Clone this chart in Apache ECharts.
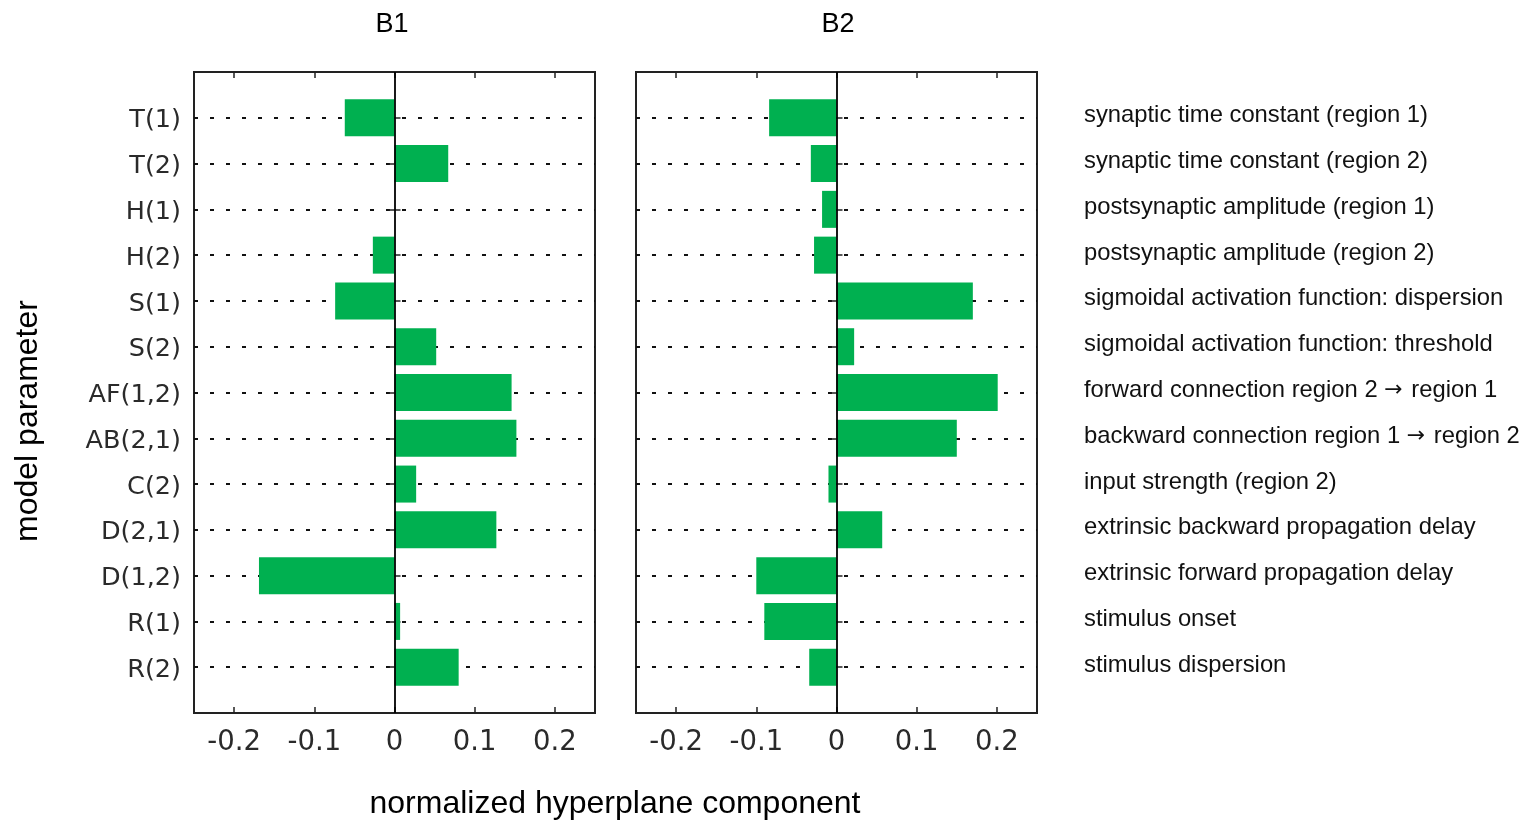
<!DOCTYPE html>
<html>
<head>
<meta charset="utf-8">
<title>Hyperplane components</title>
<script src="https://cdn.jsdelivr.net/npm/echarts@6/dist/echarts.min.js"></script>
<style>
  html, body { margin: 0; padding: 0; background: #fff; }
  #chart { width: 1535px; height: 825px; }
</style>
</head>
<body>
<div id="chart"></div>
<script>
// Model parameters (rows, top to bottom)
const params = ['T(1)', 'T(2)', 'H(1)', 'H(2)', 'S(1)', 'S(2)', 'AF(1,2)', 'AB(2,1)', 'C(2)', 'D(2,1)', 'D(1,2)', 'R(1)', 'R(2)'];

// Plain-language meaning of each parameter
const descriptions = [
  'synaptic time constant (region 1)',
  'synaptic time constant (region 2)',
  'postsynaptic amplitude (region 1)',
  'postsynaptic amplitude (region 2)',
  'sigmoidal activation function: dispersion',
  'sigmoidal activation function: threshold',
  'forward connection region 2 \u2192 region 1',
  'backward connection region 1 \u2192 region 2',
  'input strength (region 2)',
  'extrinsic backward propagation delay',
  'extrinsic forward propagation delay',
  'stimulus onset',
  'stimulus dispersion'
];

// Normalized hyperplane components per panel
const valuesB1 = [-0.062, 0.067, 0.0, -0.027, -0.074, 0.052, 0.146, 0.152, 0.027, 0.127, -0.169, 0.007, 0.080];
const valuesB2 = [-0.084, -0.032, -0.018, -0.028, 0.170, 0.022, 0.201, 0.150, -0.010, 0.057, -0.100, -0.090, -0.034];

const panelTitles = ['B1', 'B2'];
const xLabel = 'normalized hyperplane component';
const yLabel = 'model parameter';

// Pad rows with an empty slot at each end so rows sit half a step in from the frame
const pad = arr => [''].concat(arr, ['']);
const padData = arr => [null].concat(arr, [null]);

const GREEN = '#00b050';
const INK = '#222';

const grids = [
  { left: 194, top: 72, width: 401, height: 641 },
  { left: 636, top: 72, width: 401, height: 641 }
];

// Arrows in the descriptions are drawn with a font that has a full-width arrow glyph
const arrowRich = s => s.split('\u2192').join('{arr|\u2192}');

const xAxes = [];
const yAxes = [];
const series = [];

grids.forEach((g, i) => {
  // bottom value axis with labels
  xAxes.push({
    type: 'value', gridIndex: i, position: 'bottom',
    min: -0.25, max: 0.25, splitNumber: 5,
    axisLine: { show: false },
    axisTick: { show: true, inside: true, length: 6, lineStyle: { color: INK, width: 1.5 } },
    axisLabel: { margin: 16, showMinLabel: false, showMaxLabel: false,
                 fontFamily: 'DejaVu Sans', fontSize: 27.5, color: '#2a2a2a' },
    splitLine: { show: false }
  });
  // top value axis, ticks only
  xAxes.push({
    type: 'value', gridIndex: i, position: 'top',
    min: -0.25, max: 0.25, splitNumber: 5,
    axisLine: { show: false },
    axisTick: { show: true, inside: true, length: 6, lineStyle: { color: INK, width: 1.5 } },
    axisLabel: { show: false },
    splitLine: { show: false }
  });
  // left category axis with dotted row guides
  yAxes.push({
    type: 'category', gridIndex: i, position: 'left', inverse: true,
    boundaryGap: false,
    data: pad(params),
    axisLine: { show: false },
    axisTick: { show: true, inside: true, length: 6, lineStyle: { color: INK, width: 1.5 },
                interval: (idx, v) => v !== '' },
    axisLabel: {
      show: i === 0, margin: 13, interval: 0,
      formatter: v => (v === '' ? '' : '{p|' + v + '}'),
      rich: { p: { fontFamily: 'DejaVu Sans', fontSize: 25.5, color: '#2a2a2a', padding: [6, 0, 0, 0] } }
    },
    splitLine: { show: true, interval: (idx, v) => v !== '',
                 lineStyle: { color: '#111', width: 2, type: [4, 12] } }
  });
  // right category axis: ticks, plus descriptions beside the second panel
  yAxes.push({
    type: 'category', gridIndex: i, position: 'right', inverse: true,
    boundaryGap: false,
    data: pad(i === 1 ? descriptions : params),
    axisLine: { show: false },
    axisTick: { show: true, inside: true, length: 6, lineStyle: { color: INK, width: 1.5 },
                interval: (idx, v) => v !== '' },
    axisLabel: {
      show: i === 1, margin: 47, interval: 0, align: 'left', padding: [0, 0, 4, 0],
      fontFamily: 'Liberation Sans', fontSize: 23.8, color: '#111',
      formatter: v => arrowRich(v),
      rich: { arr: { fontFamily: 'DejaVu Sans', fontSize: 22, color: '#111', padding: [0, 2, 0, 0] } }
    },
    splitLine: { show: false }
  });

  series.push({
    type: 'bar',
    xAxisIndex: i * 2,
    yAxisIndex: i * 2,
    data: padData(i === 0 ? valuesB1 : valuesB2),
    barWidth: 37,
    itemStyle: { color: GREEN },
    silent: true,
    markLine: {
      silent: true,
      symbol: 'none',
      label: { show: false },
      lineStyle: { color: '#000', width: 1.8, type: 'solid' },
      data: [{ xAxis: 0 }]
    }
  });
});

const chart = echarts.init(document.getElementById('chart'), null, { renderer: 'canvas' });

const titleX = [392, 838];

chart.setOption({
  backgroundColor: '#fff',
  animation: false,
  grid: grids.map(g => Object.assign({ show: true, borderColor: INK, borderWidth: 2,
                                       backgroundColor: 'transparent' }, g)),
  xAxis: xAxes,
  yAxis: yAxes,
  series: series,
  graphic: panelTitles.map((t, i) => ({
    type: 'text',
    x: titleX[i], y: 25,
    style: {
      text: t, fontFamily: 'Liberation Sans', fontSize: 27, fill: '#000',
      textAlign: 'center', textVerticalAlign: 'middle'
    }
  })).concat([
    {
      type: 'text',
      x: 615, y: 804,
      style: {
        text: xLabel, fontFamily: 'Liberation Sans', fontSize: 32, fill: '#000',
        textAlign: 'center', textVerticalAlign: 'middle'
      }
    },
    {
      type: 'text',
      x: 28, y: 421, rotation: Math.PI / 2,
      style: {
        text: yLabel, fontFamily: 'Liberation Sans', fontSize: 32, fill: '#000',
        textAlign: 'center', textVerticalAlign: 'middle'
      }
    }
  ])
});
</script>
</body>
</html>
